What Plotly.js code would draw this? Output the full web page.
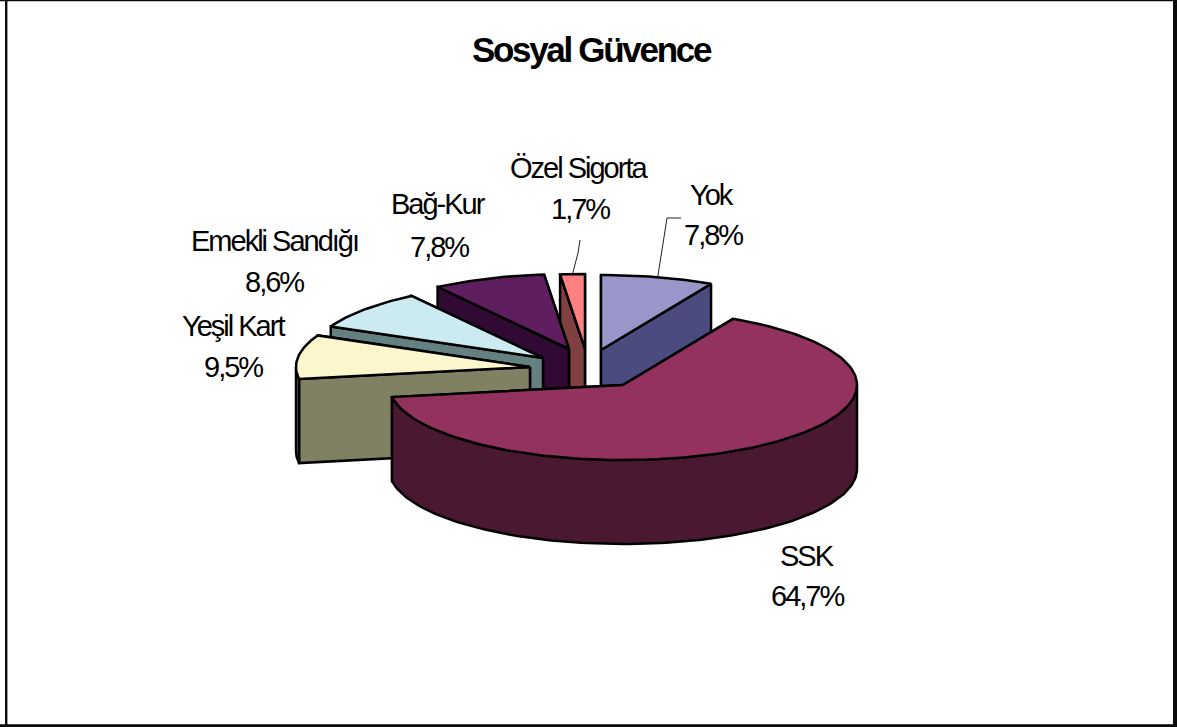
<!DOCTYPE html>
<html>
<head>
<meta charset="utf-8">
<script src="https://cdn.plot.ly/plotly-3.0.1.min.js"></script>
<style>
html,body{margin:0;padding:0;background:#fff;overflow:hidden}
#chart{width:1177px;height:727px}
.annotation-text{letter-spacing:-2px}
.gtitle{letter-spacing:-2.3px}
</style>
</head>
<body>
<div id="chart"></div>
<script>
// Data, clockwise from 12 o'clock
const categories = ["Yok", "SSK", "Yeşil Kart", "Emekli Sandığı", "Bağ-Kur", "Özel Sigorta"];
const shares = [7.8, 64.7, 9.5, 8.6, 7.8, 1.7];

// Appearance
const topColors  = ["#9A96C9", "#93325F", "#FBF6CC", "#CCEAF2", "#5E1E60", "#FF8080"];
const sideColors = ["#4B4B7F", "#4B1831", "#808062", "#658080", "#300A32", "#804040"];

// Projected pie geometry (pixels)
const radiusX = 234, radiusY = 75, depth = 84;
const apexX = [601, 623, 530, 543, 569, 585];
const apexY = [350, 385, 367, 358, 349, 349];
const drawOrder = [5, 4, 3, 2, 0, 1];

// Label placement (pixels)
const labelX = [712, 807, 233, 274, 438, 579];
const nameY  = [195, 556, 326, 241, 204, 168];
const pctX   = [713, 807, 233, 274, 439, 580];
const pctY   = [235, 596, 367, 282, 247, 209];

const total = shares.reduce((a, b) => a + b, 0);
const rad = d => d * Math.PI / 180;
let cum = 0;
const startDeg = [], endDeg = [];
shares.forEach(v => { startDeg.push(cum / total * 360); cum += v; endDeg.push(cum / total * 360); });

const rim = (i, deg) => [apexX[i] + radiusX * Math.sin(rad(deg)), apexY[i] - radiusY * Math.cos(rad(deg))];
const arc = (i, a, b) => {
  const pts = [], n = Math.max(2, Math.ceil(Math.abs(b - a) / 1.5));
  for (let k = 0; k <= n; k++) pts.push(rim(i, a + (b - a) * k / n));
  return pts;
};
const face = (i, name, pts, color) => ({
  type: "scatter", mode: "lines", name, fill: "toself", fillcolor: color,
  x: pts.map(p => p[0]).concat(pts[0][0]),
  y: pts.map(p => p[1]).concat(pts[0][1]),
  line: {color: "#000", width: 2.5, shape: "linear"},
  hoverinfo: "name", showlegend: false
});
const radial = (i, deg) => {
  const r = rim(i, deg);
  return [[apexX[i], apexY[i]], r, [r[0], r[1] + depth], [apexX[i], apexY[i] + depth]];
};

const traces = [];
drawOrder.forEach(i => {
  const s = startDeg[i], e = endDeg[i], name = categories[i];
  const mid = (s + e) / 2;
  const order = mid > 180 ? [e, s] : [s, e];
  order.forEach(d => traces.push(face(i, name, radial(i, d), sideColors[i])));
  const w0 = Math.max(s, 90), w1 = Math.min(e, 270);
  if (w1 > w0) {
    const top = arc(i, w0, w1);
    const bottom = top.slice().reverse().map(p => [p[0], p[1] + depth]);
    traces.push(face(i, name, top.concat(bottom), sideColors[i]));
  }
  traces.push(face(i, name, [[apexX[i], apexY[i]]].concat(arc(i, s, e)), topColors[i]));
});

// Labels
const fmt = v => v.toFixed(1).replace(".", ",") + "%";
const labelFont = {family: "Liberation Sans, Arial, sans-serif", size: 29, color: "#000"};
const annotations = [];
categories.forEach((c, i) => {
  annotations.push({x: labelX[i], y: nameY[i], xref: "x", yref: "y", text: c, showarrow: false, font: labelFont, xanchor: "center", yanchor: "middle"});
  annotations.push({x: pctX[i], y: pctY[i], xref: "x", yref: "y", text: fmt(shares[i]), showarrow: false, font: labelFont, xanchor: "center", yanchor: "middle"});
});

// Leader lines from the middle of each outer arc
const leader = (i, path) => {
  const p = rim(i, (startDeg[i] + endDeg[i]) / 2);
  const all = [p].concat(path);
  return {
    type: "scatter", mode: "lines", x: all.map(q => q[0]), y: all.map(q => q[1]),
    line: {color: "#222", width: 1}, hoverinfo: "skip", showlegend: false
  };
};
traces.push(leader(0, [[667, 218], [681, 218]]));
traces.push(leader(5, [[578, 253], [580, 240]]));

const frameLine = (x0, y0, x1, y1, w) => ({
  type: "line", xref: "x", yref: "y", x0, y0, x1, y1, line: {color: "#0a0a0a", width: w}, layer: "above"
});

const layout = {
  width: 1177, height: 727,
  margin: {l: 0, r: 0, t: 0, b: 0},
  paper_bgcolor: "#fff", plot_bgcolor: "#fff",
  showlegend: false,
  title: {
    text: "<b>Sosyal Güvence</b>",
    x: 591 / 1177, xanchor: "center",
    y: 1 - 50 / 727, yanchor: "middle",
    font: {family: "Liberation Sans, Arial, sans-serif", size: 35, color: "#000"}
  },
  xaxis: {range: [0, 1177], visible: false, fixedrange: true},
  yaxis: {range: [727, 0], visible: false, fixedrange: true},
  annotations,
  shapes: [
    frameLine(6.2, 0, 6.2, 727, 2.4),
    frameLine(0, 725.6, 1177, 725.6, 2.8),
    frameLine(1175, 0, 1175, 727, 4),
    frameLine(0, 0.4, 1177, 0.4, 1.6)
  ]
};
Plotly.newPlot("chart", traces, layout, {displayModeBar: false, responsive: false});
</script>
</body>
</html>
